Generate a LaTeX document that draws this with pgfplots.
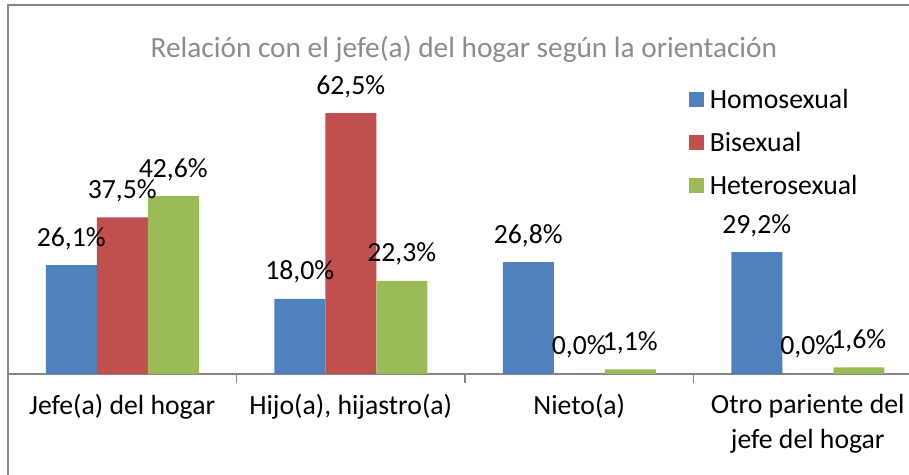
\documentclass[border=0pt]{standalone}
\usepackage{pgfplots}
\pgfplotsset{compat=1.18}
\usepackage{fontspec}
\setmainfont{Carlito}
\definecolor{cblue}{HTML}{4F81BD}
\definecolor{cred}{HTML}{C0504D}
\definecolor{cgreen}{HTML}{9BBB59}
\definecolor{framec}{HTML}{868686}
\definecolor{ttl}{HTML}{8C8C8C}
\newcommand{\lbl}{\fontsize{20.8}{26}\selectfont}
\newcommand{\ttlf}{\fontsize{22}{26}\selectfont}
\begin{document}
\begin{tikzpicture}
\begin{axis}[name=ax, scale only axis, width=675.75pt, height=352.5pt,
  xmin=-0.5, xmax=3.443, ymin=-24.2, ymax=88.4,
  axis x line=middle, axis y line=none,
  x axis line style={-, draw=framec, line width=1.2pt},
  ybar=0pt, bar width=38.25pt,
  xtick={0,1,2,3},
  xticklabels={Jefe(a) del hogar, {Hijo(a), hijastro(a)}, Nieto(a), {Otro pariente del\\jefe del hogar}},
  major tick length=0pt,
  extra x ticks={0.5,1.5,2.5}, extra x tick labels={},
  extra x tick style={tick align=outside, major tick length=6.75pt, tick style={draw=framec, line width=1.2pt}},
  xticklabel style={font=\lbl, align=center, text=black, yshift=-12pt},
  /pgf/number format/assume math mode=true,
  nodes near coords={\pgfmathprintnumber[fixed,fixed zerofill,precision=1,use comma]{\pgfplotspointmeta}\%},
  every node near coord/.append style={font=\lbl, anchor=base, yshift=14.25pt, text=black},
  legend style={at={(rel axis cs:0.756,0.828)}, anchor=north west, draw=none, fill=none, font=\lbl, row sep=12.5pt, inner sep=0pt, cells={anchor=west}, nodes={inner xsep=4pt}},
  legimg/.style={legend image code/.code={\fill[##1] (0pt,-5.6pt) rectangle (11.25pt,5.6pt);}},
  clip=false,
]
\addplot[fill=cblue, draw=none, legimg] coordinates {(0,26.1) (1,18.0) (2,26.8) (3,29.2)};
\addplot[fill=cred, draw=none, legimg] coordinates {(0,37.5) (1,62.5) (2,0.0) (3,0.0)};
\addplot[fill=cgreen, draw=none, legimg] coordinates {(0,42.6) (1,22.3) (2,1.1) (3,1.6)};
\legend{Homosexual, Bisexual, Heterosexual}
\draw[framec, line width=1.5pt] (rel axis cs:0,0) -- (rel axis cs:0,1) -- (rel axis cs:1,1);
\node[text=ttl, font=\ttlf] at (rel axis cs:0.506,0.905) {Relación con el jefe(a) del hogar según la orientación};
\end{axis}
\pgfresetboundingbox
\path ([xshift=-6pt]ax.south west) rectangle ([yshift=3.75pt]ax.north east);
\end{tikzpicture}
\end{document}
